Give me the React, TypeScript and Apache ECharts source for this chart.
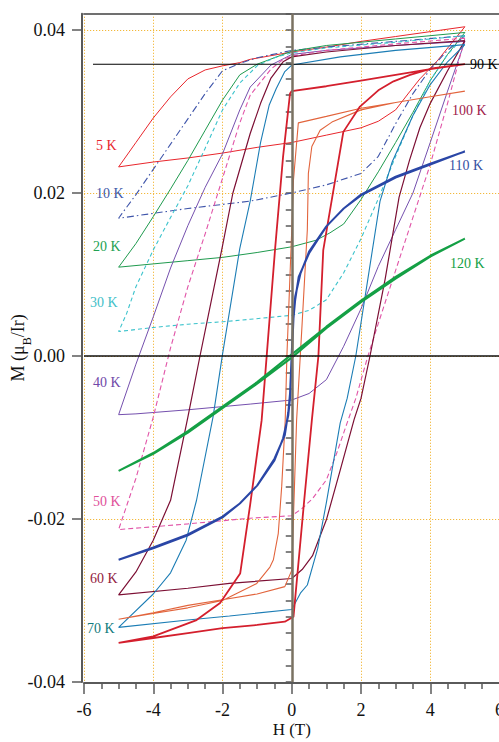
import React, { useEffect, useRef } from 'react';
import * as echarts from 'echarts';

// Hysteresis loops M(H): each loop = descending branch (+5 T -> -5 T) then ascending branch (-5 T -> +5 T)
const loop5K_down = [[5,0.0404],[4,0.0398],[3,0.0392],[2,0.0386],[1,0.0379],[0,0.0373],[-1.2,0.0364],[-1.5,0.0360],[-2,0.0356],[-2.5,0.0351],[-3,0.0340],[-3.5,0.0318],[-4,0.0292],[-4.5,0.0262],[-5,0.0232]];
const loop5K_up = [[-5,0.0232],[-4,0.0238],[-3,0.0243],[-2,0.0249],[-1,0.0256],[0,0.0262],[1,0.0271],[2,0.0280],[2.5,0.0288],[3,0.0302],[3.4,0.0324],[3.7,0.0340],[4.2,0.0362],[4.6,0.0383],[5,0.0404]];

const loop10K_down = [[5,0.0393],[3,0.0386],[1,0.0379],[0,0.0375],[-1,0.0366],[-1.5,0.0359],[-2,0.0350],[-2.5,0.0322],[-3,0.0291],[-3.5,0.0260],[-4,0.0229],[-4.5,0.0198],[-4.9,0.0175],[-5,0.0169]];
const loop10K_up = [[-5,0.0169],[-4,0.0175],[-3,0.0181],[-2,0.0186],[-1.2,0.0190],[0,0.0200],[1,0.0210],[2,0.0224],[2.5,0.0245],[3,0.0285],[3.5,0.0322],[4,0.0352],[4.5,0.0375],[5,0.0393]];

const loop20K_down = [[5,0.0397],[3,0.0389],[1,0.0381],[0,0.0374],[-1,0.0358],[-1.5,0.0345],[-2,0.0314],[-2.5,0.0277],[-3,0.0240],[-3.5,0.0205],[-4,0.0171],[-4.5,0.0138],[-5,0.0109]];
const loop20K_up = [[-5,0.0109],[-4,0.0113],[-3,0.0117],[-2,0.0121],[-1,0.0127],[0,0.0134],[0.7,0.0142],[1.1,0.0151],[1.5,0.0162],[2,0.0192],[2.5,0.0226],[3,0.0262],[3.5,0.0299],[4,0.0338],[4.5,0.0370],[5,0.0397]];

const loop30K_down = [[5,0.0393],[3,0.0385],[1,0.0378],[0,0.0372],[-0.5,0.0366],[-1,0.0356],[-1.5,0.0335],[-2,0.0302],[-2.5,0.0255],[-3,0.0209],[-3.5,0.0170],[-4,0.0130],[-4.5,0.0085],[-4.77,0.0052],[-5,0.0030]];
const loop30K_up = [[-5,0.0030],[-4,0.0035],[-3,0.0039],[-2,0.0042],[-1.2,0.0045],[0,0.0050],[0.5,0.0056],[1,0.0069],[1.5,0.0102],[2,0.0144],[2.5,0.0193],[3,0.0245],[3.5,0.0295],[4,0.0338],[4.5,0.0370],[5,0.0393]];

const loop40K_down = [[5,0.0386],[3,0.0381],[1,0.0375],[0,0.0370],[-0.6,0.0357],[-1.2,0.0330],[-1.5,0.0302],[-2,0.0248],[-2.5,0.0207],[-3,0.0160],[-3.5,0.0108],[-4,0.0048],[-4.5,-0.0010],[-5,-0.0072]];
const loop40K_up = [[-5,-0.0072],[-4.5,-0.0071],[-3,-0.0066],[-1.2,-0.0059],[0,-0.0054],[0.5,-0.0046],[1,-0.0029],[1.5,0.0012],[2,0.0058],[2.5,0.0110],[3,0.0155],[3.5,0.0200],[4,0.0262],[4.5,0.0325],[5,0.0386]];

const loop50K_down = [[5,0.0390],[3,0.0383],[1,0.0375],[0,0.0368],[-0.25,0.0364],[-0.6,0.0352],[-1.2,0.0320],[-1.5,0.0286],[-2,0.0218],[-2.5,0.0150],[-3,0.0085],[-3.5,0.0010],[-4,-0.0075],[-4.5,-0.0150],[-5,-0.0213]];
const loop50K_up = [[-5,-0.0213],[-3,-0.0206],[-1.2,-0.0199],[0,-0.0196],[0.3,-0.0187],[0.6,-0.0175],[1,-0.0152],[1.3,-0.0119],[1.6,-0.0082],[1.85,-0.0052],[2.2,0.0000],[2.5,0.0040],[3,0.0105],[3.5,0.0170],[4,0.0235],[4.5,0.0310],[5,0.0390]];

const loop60K_down = [[5,0.0387],[3,0.0381],[1,0.0373],[0,0.0367],[-0.25,0.0361],[-0.6,0.0341],[-0.9,0.0310],[-1.2,0.0273],[-1.7,0.0200],[-2,0.0135],[-2.65,0.0000],[-3,-0.0075],[-3.5,-0.0177],[-4,-0.0226],[-4.5,-0.0265],[-5,-0.0293]];
const loop60K_up = [[-5,-0.0293],[-3,-0.0285],[-1.8,-0.0279],[0,-0.0273],[0.3,-0.0262],[0.6,-0.0245],[1,-0.0201],[1.4,-0.0140],[1.8,-0.0078],[2,-0.0052],[2.26,0.0000],[2.7,0.0095],[3.1,0.0195],[3.4,0.0240],[3.7,0.0280],[4,0.0310],[4.5,0.0350],[5,0.0387]];

const loop70K_down = [[5,0.0382],[3,0.0375],[1.4,0.0367],[0,0.0357],[-0.2,0.0349],[-0.45,0.0328],[-0.65,0.0308],[-0.9,0.0262],[-1.2,0.0190],[-1.5,0.0132],[-2,0.0002],[-2.27,-0.0074],[-2.75,-0.0177],[-3.05,-0.0226],[-3.5,-0.0266],[-4,-0.0292],[-5,-0.0333]];
const loop70K_up = [[-5,-0.0333],[-3,-0.0324],[-1.8,-0.0319],[0,-0.0311],[0.25,-0.0291],[0.45,-0.0281],[0.75,-0.0236],[1,-0.0180],[1.4,-0.0082],[1.6,-0.0052],[1.85,0.0000],[2.2,0.0095],[2.55,0.0190],[2.9,0.0238],[3.5,0.0295],[4,0.0333],[4.5,0.0361],[5,0.0382]];

const loop90K_down = [[5,0.0358],[4,0.0352],[3,0.0345],[2,0.0338],[1,0.0331],[0,0.0325],[-0.05,0.0322],[-0.25,0.0245],[-0.48,0.0132],[-0.87,-0.0079],[-1.2,-0.0182],[-1.49,-0.0267],[-1.78,-0.0285],[-2.07,-0.0303],[-2.75,-0.0324],[-4,-0.0344],[-5,-0.0352]];
const loop90K_up = [[-5,-0.0352],[-4,-0.0346],[-3,-0.0340],[-2,-0.0334],[-1,-0.0330],[-0.2,-0.0326],[0.05,-0.0320],[0.36,-0.0177],[0.58,-0.0079],[0.77,0.0000],[0.91,0.0130],[1.01,0.0155],[1.49,0.0275],[1.97,0.0306],[2.5,0.0326],[2.94,0.0337],[3.42,0.0345],[4.05,0.0353],[5,0.0358]];

const loop100K_down = [[5,0.0325],[4,0.0318],[3,0.0311],[2,0.0304],[1,0.0294],[0.19,0.0286],[0.05,0.0216],[0,0.0155],[-0.14,0.0000],[-0.19,-0.0080],[-0.29,-0.0160],[-0.39,-0.0218],[-0.53,-0.0250],[-0.63,-0.0259],[-1.01,-0.0279],[-2,-0.0300],[-3,-0.0309],[-4,-0.0316],[-5,-0.0323]];
const loop100K_up = [[-5,-0.0323],[-4,-0.0315],[-3,-0.0306],[-2,-0.0299],[-1,-0.0292],[-0.2,-0.0283],[0,-0.0263],[0.14,-0.0079],[0.3,0.0040],[0.45,0.0155],[0.48,0.0224],[0.58,0.0257],[0.82,0.0277],[1.16,0.0287],[2,0.0302],[3,0.0311],[4,0.0318],[5,0.0325]];

const loop110K_down = [[5,0.0251],[4,0.0236],[3,0.0220],[2,0.0198],[1.5,0.0181],[1,0.0159],[0.5,0.0128],[0.25,0.0101],[0.1,0.0073],[0.05,0.0052],[0,0.0004],[-0.05,-0.0046],[-0.1,-0.0069],[-0.2,-0.0097],[-0.5,-0.0126],[-1,-0.0159],[-1.5,-0.0181],[-2,-0.0197],[-3,-0.0219],[-4,-0.0235],[-5,-0.0250]];
const loop110K_up = [[-5,-0.0250],[-4,-0.0236],[-3,-0.0220],[-2,-0.0198],[-1.5,-0.0181],[-1,-0.0159],[-0.5,-0.0128],[-0.25,-0.0101],[-0.1,-0.0073],[-0.05,-0.0052],[0,-0.0004],[0.05,0.0046],[0.1,0.0069],[0.2,0.0097],[0.5,0.0126],[1,0.0159],[1.5,0.0181],[2,0.0197],[3,0.0219],[4,0.0235],[5,0.0251]];

const loop120K_down = [[5,0.0144],[4,0.0123],[3,0.0097],[2,0.0068],[1,0.0036],[0,0.0002],[-1,-0.0032],[-2,-0.0062],[-3,-0.0092],[-4,-0.0119],[-5,-0.0141]];
const loop120K_up = [[-5,-0.0141],[-4,-0.0120],[-3,-0.0094],[-2,-0.0064],[-1,-0.0034],[0,-0.0002],[1,0.0034],[2,0.0066],[3,0.0095],[4,0.0122],[5,0.0144]];

// horizontal reference line next to the 90 K label
const refLine90K = [[-5.74,0.0358],[6,0.0358]];

const xTicks = [-6, -4, -2, 0, 2, 4, 6];
const yTicks = [-0.04, -0.02, 0, 0.02, 0.04];

const SERIF = '"Liberation Serif", "Times New Roman", serif';

const loops = [
  { name: '5 K', down: loop5K_down, up: loop5K_up, color: '#e8262c', width: 1, dash: 'solid' as any },
  { name: '10 K', down: loop10K_down, up: loop10K_up, color: '#3f55aa', width: 1.1, dash: [7, 3, 1.5, 3] },
  { name: '20 K', down: loop20K_down, up: loop20K_up, color: '#1f9a4e', width: 1, dash: 'solid' },
  { name: '30 K', down: loop30K_down, up: loop30K_up, color: '#3cc3cc', width: 1.1, dash: [4, 3] },
  { name: '40 K', down: loop40K_down, up: loop40K_up, color: '#7550ae', width: 1, dash: 'solid' },
  { name: '50 K', down: loop50K_down, up: loop50K_up, color: '#e155a8', width: 1.1, dash: [5, 3] },
  { name: '60 K', down: loop60K_down, up: loop60K_up, color: '#7c0f34', width: 1.2, dash: 'solid' },
  { name: '70 K', down: loop70K_down, up: loop70K_up, color: '#1c7db5', width: 1.1, dash: 'solid' },
  { name: '100 K', down: loop100K_down, up: loop100K_up, color: '#e2643c', width: 1.1, dash: 'solid' },
  { name: '90 K', down: loop90K_down, up: loop90K_up, color: '#d41f2d', width: 1.8, dash: 'solid' },
  { name: '110 K', down: loop110K_down, up: loop110K_up, color: '#2a46a6', width: 2, dash: 'solid' },
  { name: '120 K', down: loop120K_down, up: loop120K_up, color: '#14a045', width: 2, dash: 'solid' },
];

const curveLabels = [
  { text: '5 K', x: 96, y: 145, color: '#e8262c' },
  { text: '10 K', x: 96, y: 193, color: '#4058a8' },
  { text: '20 K', x: 93, y: 246, color: '#22a152' },
  { text: '30 K', x: 90, y: 302, color: '#3fc0c8' },
  { text: '40 K', x: 93, y: 382, color: '#7048a8' },
  { text: '50 K', x: 93, y: 501, color: '#e0509a' },
  { text: '60 K', x: 90, y: 578, color: '#921a3c' },
  { text: '70 K', x: 87, y: 628, color: '#107a7c' },
  { text: '90 K', x: 470, y: 64, color: '#000000' },
  { text: '100 K', x: 452, y: 110, color: '#a0204a' },
  { text: '110 K', x: 449, y: 165, color: '#3550a2' },
  { text: '120 K', x: 450, y: 263, color: '#14a045' },
];

export default function App() {
  const ref = useRef<HTMLDivElement>(null);

  useEffect(() => {
    if (!ref.current) return;
    const chart = echarts.init(ref.current, undefined, { renderer: 'svg' });

    const axisGray = '#5a5a5a';
    const gridOrange = '#f3b83a';
    const gridDots = [1.2, 1.8];

    const loopSeries = loops.map((l) => ({
      type: 'line',
      name: l.name,
      data: [...l.down, ...l.up.slice(1)],
      showSymbol: false,
      symbol: 'none',
      xAxisIndex: 0,
      yAxisIndex: 0,
      lineStyle: { color: l.color, width: l.width, type: l.dash },
      z: 3,
    }));

    chart.setOption({
      animation: false,
      backgroundColor: '#ffffff',
      grid: { left: 84, right: -0.5, top: 13.7, bottom: 60, containLabel: false, outerBoundsMode: 'none' },
      xAxis: [
        {
          type: 'value',
          min: -6,
          max: 6,
          interval: 2,
          position: 'bottom',
          offset: 1,
          name: 'H (T)',
          nameLocation: 'middle',
          nameGap: 38,
          nameMoveOverlap: false,
          nameTextStyle: { fontFamily: SERIF, fontSize: 17, color: '#111' },
          axisLine: { show: true, onZero: false, lineStyle: { color: axisGray, width: 2 } },
          axisTick: { show: true, length: 11, lineStyle: { color: axisGray, width: 1.5 } },
          minorTick: { show: true, splitNumber: 4, length: 6, lineStyle: { color: axisGray, width: 1.5 } },
          axisLabel: {
            fontFamily: SERIF,
            fontSize: 18,
            color: '#111',
            margin: 18,
            customValues: xTicks,
            formatter: (v: number) => String(Math.round(v)),
          },
          splitLine: { show: true, lineStyle: { color: gridOrange, type: gridDots, width: 1 } },
        },
        {
          type: 'value',
          min: -6,
          max: 6,
          position: 'top',
          axisLine: { show: true, onZero: false, lineStyle: { color: '#707070', width: 2 } },
          axisTick: { show: false },
          axisLabel: { show: false },
          splitLine: { show: false },
        },
      ],
      yAxis: [
        {
          type: 'value',
          min: -0.04,
          max: 0.042,
          interval: 0.02,
          position: 'left',
          offset: 2,
          name: '{a|M (μ}{s|B}{a|/Ir)}',
          nameLocation: 'middle',
          nameGap: 52,
          nameMoveOverlap: false,
          nameTextStyle: {
            fontFamily: SERIF,
            fontSize: 18,
            color: '#111',
            rich: {
              a: { fontFamily: SERIF, fontSize: 18, color: '#111', lineHeight: 24 },
              s: { fontFamily: SERIF, fontSize: 12, color: '#111', lineHeight: 24, verticalAlign: 'bottom', padding: [0, 0, -3, 0] },
            },
          },
          axisLine: { show: true, onZero: false, lineStyle: { color: axisGray, width: 2 } },
          axisTick: { show: true, length: 10, customValues: yTicks, lineStyle: { color: axisGray, width: 1.5 } },
          axisLabel: {
            fontFamily: SERIF,
            fontSize: 18,
            color: '#111',
            margin: 17,
            customValues: yTicks,
            formatter: (v: number) => (Math.abs(v) < 1e-9 ? '0.00' : v.toFixed(2)),
          },
          splitLine: { show: true, lineStyle: { color: gridOrange, type: gridDots, width: 1 } },
        },
        {
          type: 'value',
          min: -0.04,
          max: 0.042,
          interval: 0.002,
          position: 'left',
          offset: 2,
          axisLine: { show: false },
          axisTick: { show: true, length: 6, lineStyle: { color: axisGray, width: 1.5 } },
          axisLabel: { show: false },
          splitLine: { show: false },
        },
      ],
      series: [
        ...loopSeries,
        {
          type: 'line',
          name: '90 K ref',
          data: refLine90K,
          showSymbol: false,
          symbol: 'none',
          lineStyle: { color: '#000', width: 1.2 },
          z: 4,
        },
        {
          type: 'line',
          name: 'zero lines',
          data: [],
          symbol: 'none',
          z: 5,
          markLine: {
            silent: true,
            symbol: 'none',
            label: { show: false },
            data: [
              { xAxis: 0, lineStyle: { color: '#7a7262', width: 2.5, type: 'solid' } },
              { yAxis: 0, lineStyle: { color: '#111', width: 1.5, type: 'solid' } },
            ],
          },
        },
      ],
      graphic: curveLabels.map((c) => ({
        type: 'text',
        x: c.x,
        y: c.y,
        z: 10,
        style: {
          text: c.text,
          fill: c.color,
          font: `14px ${SERIF}`,
          align: 'left',
          verticalAlign: 'middle',
        },
      })),
    });

    return () => chart.dispose();
  }, []);

  return (
    <div
      ref={ref}
      style={{ position: 'absolute', left: 0, top: 0, width: 499, height: 742, background: '#fff' }}
    />
  );
}
